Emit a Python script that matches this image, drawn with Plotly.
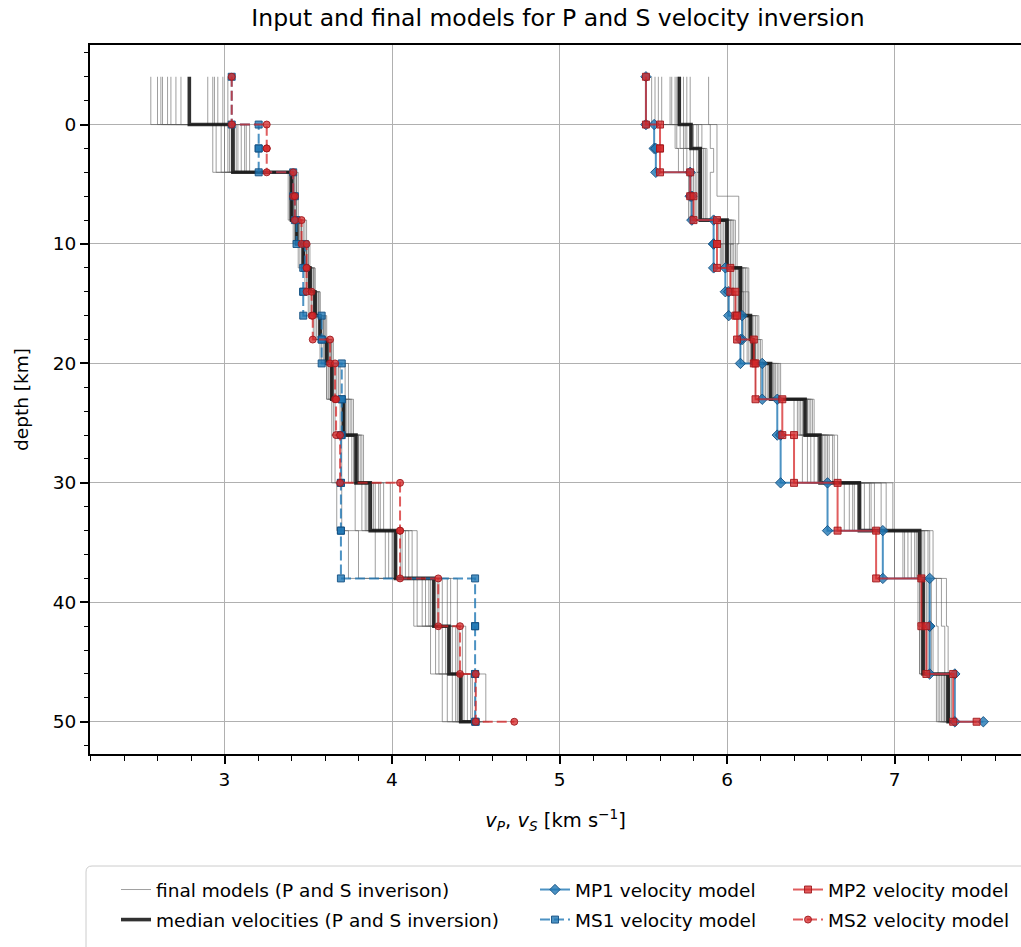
import plotly.graph_objects as go

# ---------------- data ----------------
# layer boundaries [km]; every model has 19 layers + a half-space value (last entry)
depth_bounds = [-4, 0, 2, 4, 6, 8, 10, 12, 14, 16, 18, 20, 23, 26, 30, 34, 38, 42, 46, 50]

vs_median = [2.79, 3.05, 3.05, 3.40, 3.40, 3.43, 3.47, 3.51, 3.54, 3.57, 3.61, 3.64, 3.71, 3.785, 3.87, 4.02, 4.25, 4.34, 4.41, 4.50]
vp_median = [5.715, 5.785, 5.84, 5.84, 5.84, 6.00, 6.00, 6.08, 6.08, 6.14, 6.155, 6.26, 6.466, 6.555, 6.79, 7.15, 7.17, 7.17, 7.32, 7.35]

mp1 = [5.516, 5.565, 5.575, 5.78, 5.79, 5.92, 5.92, 5.99, 6.01, 6.09, 6.08, 6.21, 6.30, 6.32, 6.60, 6.93, 7.21, 7.21, 7.36, 7.53]
ms1 = [3.043, 3.204, 3.204, 3.41, 3.42, 3.43, 3.48, 3.47, 3.47, 3.58, 3.58, 3.70, 3.70, 3.695, 3.695, 3.695, 4.496, 4.496, 4.496, 4.50]
mp2 = [5.516, 5.60, 5.60, 5.78, 5.80, 5.94, 5.94, 6.02, 6.05, 6.06, 6.16, 6.17, 6.33, 6.40, 6.66, 6.89, 7.16, 7.19, 7.35, 7.49]
ms2 = [3.043, 3.252, 3.252, 3.41, 3.42, 3.46, 3.49, 3.49, 3.52, 3.527, 3.63, 3.66, 3.666, 3.69, 4.048, 4.048, 4.276, 4.406, 4.50, 4.73]

vs_final = [
    [2.56, 3.02, 3.02, 3.41, 3.41, 3.44, 3.47, 3.50, 3.53, 3.57, 3.60, 3.64, 3.70, 3.76, 3.85, 4.02, 4.24, 4.33, 4.40, 4.48],
    [2.62, 3.06, 3.06, 3.40, 3.40, 3.42, 3.46, 3.52, 3.55, 3.58, 3.62, 3.66, 3.73, 3.80, 3.90, 4.05, 4.22, 4.30, 4.38, 4.50],
    [2.63, 2.95, 2.95, 3.39, 3.39, 3.45, 3.48, 3.51, 3.54, 3.56, 3.61, 3.63, 3.69, 3.74, 3.82, 3.98, 4.20, 4.35, 4.42, 4.52],
    [2.66, 3.10, 3.10, 3.42, 3.42, 3.46, 3.49, 3.53, 3.56, 3.59, 3.63, 3.68, 3.75, 3.82, 3.95, 4.10, 4.30, 4.40, 4.47, 4.55],
    [2.68, 2.98, 2.98, 3.40, 3.40, 3.43, 3.47, 3.50, 3.52, 3.55, 3.59, 3.62, 3.66, 3.70, 3.78, 3.90, 4.15, 4.26, 4.33, 4.44],
    [2.71, 3.08, 3.08, 3.41, 3.41, 3.47, 3.50, 3.52, 3.55, 3.60, 3.64, 3.65, 3.72, 3.79, 3.88, 4.06, 4.28, 4.38, 4.45, 4.53],
    [2.74, 3.04, 3.04, 3.43, 3.43, 3.44, 3.48, 3.53, 3.57, 3.58, 3.61, 3.67, 3.71, 3.77, 3.86, 4.00, 4.25, 4.36, 4.43, 4.50],
    [2.90, 3.15, 3.15, 3.44, 3.44, 3.49, 3.51, 3.54, 3.56, 3.61, 3.65, 3.72, 3.77, 3.83, 3.99, 4.15, 4.39, 4.44, 4.56, 4.58],
    [2.93, 3.00, 3.00, 3.39, 3.39, 3.43, 3.45, 3.49, 3.51, 3.54, 3.58, 3.61, 3.65, 3.64, 3.67, 3.74, 4.13, 4.23, 4.30, 4.42],
    [2.94, 3.12, 3.12, 3.40, 3.40, 3.45, 3.49, 3.52, 3.54, 3.57, 3.62, 3.65, 3.72, 3.80, 3.89, 4.08, 4.27, 4.32, 4.39, 4.49],
    [2.96, 2.93, 2.93, 3.38, 3.38, 3.41, 3.44, 3.48, 3.50, 3.53, 3.57, 3.61, 3.64, 3.66, 3.70, 3.80, 4.18, 4.28, 4.36, 4.46],
    [2.99, 3.07, 3.07, 3.42, 3.42, 3.46, 3.49, 3.51, 3.55, 3.59, 3.63, 3.74, 3.76, 3.81, 3.93, 4.12, 4.33, 4.42, 4.50, 4.56],
    [3.02, 3.03, 3.03, 3.41, 3.41, 3.44, 3.47, 3.50, 3.53, 3.58, 3.60, 3.64, 3.71, 3.78, 3.84, 3.96, 4.23, 4.34, 4.41, 4.51],
    [2.60, 3.13, 3.13, 3.43, 3.43, 3.48, 3.50, 3.54, 3.57, 3.60, 3.64, 3.69, 3.74, 3.79, 3.92, 4.03, 4.35, 4.39, 4.48, 4.54],
]

vp_final = [
    [5.55, 5.72, 5.76, 5.78, 5.78, 5.95, 5.97, 6.03, 6.04, 6.09, 6.10, 6.20, 6.42, 6.50, 6.73, 7.05, 7.15, 7.16, 7.28, 7.33],
    [5.57, 5.75, 5.80, 5.80, 5.80, 5.97, 5.98, 6.05, 6.06, 6.12, 6.13, 6.23, 6.45, 6.58, 6.80, 7.12, 7.18, 7.19, 7.30, 7.35],
    [5.59, 5.70, 5.74, 5.77, 5.77, 5.94, 5.96, 6.02, 6.01, 6.07, 6.08, 6.17, 6.40, 6.45, 6.70, 7.00, 7.14, 7.15, 7.25, 7.31],
    [5.61, 5.80, 5.85, 5.85, 5.85, 6.01, 6.02, 6.09, 6.10, 6.15, 6.17, 6.28, 6.48, 6.60, 6.85, 7.18, 7.22, 7.21, 7.31, 7.36],
    [5.67, 5.78, 5.82, 5.83, 5.83, 5.99, 6.00, 6.07, 6.08, 6.13, 6.15, 6.25, 6.46, 6.54, 6.78, 7.10, 7.16, 7.17, 7.29, 7.34],
    [5.69, 5.85, 5.88, 5.88, 5.88, 6.03, 6.04, 6.11, 6.12, 6.18, 6.19, 6.30, 6.50, 6.63, 6.92, 7.20, 7.25, 7.26, 7.33, 7.37],
    [5.70, 5.69, 5.71, 5.79, 5.79, 5.96, 5.97, 6.04, 6.05, 6.10, 6.12, 6.22, 6.43, 6.48, 6.75, 7.08, 7.17, 7.18, 7.27, 7.32],
    [5.72, 5.90, 5.92, 5.90, 5.90, 6.05, 6.05, 6.12, 6.13, 6.19, 6.21, 6.32, 6.52, 6.66, 6.99, 7.23, 7.31, 7.32, 7.34, 7.38],
    [5.74, 5.76, 5.83, 5.84, 5.84, 6.00, 6.01, 6.08, 6.09, 6.14, 6.16, 6.27, 6.47, 6.57, 6.82, 7.14, 7.19, 7.20, 7.31, 7.35],
    [5.76, 5.82, 5.86, 5.86, 5.86, 6.02, 6.03, 6.10, 6.11, 6.16, 6.18, 6.29, 6.49, 6.61, 6.88, 7.16, 7.21, 7.23, 7.32, 7.36],
    [5.78, 5.74, 5.78, 5.81, 5.81, 5.98, 5.99, 6.06, 6.07, 6.11, 6.14, 6.24, 6.44, 6.52, 6.76, 7.06, 7.15, 7.15, 7.26, 7.30],
    [5.89, 5.94, 5.94, 5.94, 6.07, 6.07, 6.06, 6.13, 6.13, 6.17, 6.20, 6.31, 6.51, 6.64, 6.95, 7.21, 7.28, 7.30, 7.33, 7.37],
    [5.71, 5.79, 5.84, 5.82, 5.82, 5.99, 5.99, 6.07, 6.07, 6.13, 6.15, 6.26, 6.46, 6.56, 6.79, 7.13, 7.18, 7.18, 7.30, 7.34],
    [5.66, 5.83, 5.87, 5.87, 5.87, 6.04, 6.02, 6.09, 6.10, 6.15, 6.17, 6.28, 6.48, 6.59, 6.86, 7.17, 7.20, 7.22, 7.32, 7.36],
]

title_text = "Input and final models for P and S velocity inversion"
x_label = "<i>v</i><sub><i>P</i></sub>, <i>v</i><sub><i>S</i></sub> [km s<sup>\u22121</sup>]"
y_label = "depth [km]"

# ---------------- helpers ----------------
def step_xy(vals):
    xs, ys = [], []
    for i in range(len(depth_bounds) - 1):
        xs += [vals[i], vals[i]]
        ys += [depth_bounds[i], depth_bounds[i + 1]]
    xs.append(vals[-1])
    ys.append(depth_bounds[-1])
    return xs, ys

FONT = "DejaVu Sans"
BLUE = "rgba(31,119,180,0.8)"
BLUE_EDGE = "rgba(20,80,130,0.9)"
RED = "rgba(214,39,40,0.75)"
RED_EDGE = "rgba(160,25,30,0.9)"

fig = go.Figure()

# final models (gray)
first = True
for model in vs_final + vp_final:
    xs, ys = step_xy(model)
    fig.add_trace(go.Scatter(
        x=xs, y=ys, mode="lines",
        line=dict(color="rgba(95,95,95,0.6)", width=1),
        name="final models (P and S inverison)",
        legendgroup="final", showlegend=first, legend="legend",
        hoverinfo="skip"))
    first = False

# medians
first = True
for model in (vs_median, vp_median):
    xs, ys = step_xy(model)
    fig.add_trace(go.Scatter(
        x=xs, y=ys, mode="lines",
        line=dict(color="rgba(20,20,20,0.88)", width=3.6),
        name="median velocities (P and S inversion)",
        legendgroup="median", showlegend=first, legend="legend"))
    first = False

def add_model(vals, name, color, edge, dash, symbol, legend, group):
    xs, ys = step_xy(vals)
    fig.add_trace(go.Scatter(
        x=xs, y=ys, mode="lines+markers", name=name,
        line=dict(color=color, width=2, dash=dash),
        marker=dict(symbol=symbol, size=7 if symbol != "diamond" else 8,
                    color=color, line=dict(color=edge, width=1)),
        legend=legend, legendgroup=group))

add_model(mp1, "MP1 velocity model", BLUE, BLUE_EDGE, "solid", "diamond", "legend2", "mp1")
add_model(ms1, "MS1 velocity model", BLUE, BLUE_EDGE, "10px,4px", "square", "legend2", "ms1")
add_model(mp2, "MP2 velocity model", RED, RED_EDGE, "solid", "square", "legend3", "mp2")
add_model(ms2, "MS2 velocity model", RED, RED_EDGE, "10px,4px", "circle", "legend3", "ms2")

# ---------------- layout ----------------
W, H = 1021, 947
ML, MR, MT, MB = 90, 0, 45, 193
PW, PH = W - ML - MR, H - MT - MB

def px(x):
    return (x - ML) / PW

def py(y):
    return (H - MB - y) / PH

leg_common = dict(
    xanchor="left", yanchor="top", bgcolor="rgba(0,0,0,0)", borderwidth=0,
    font=dict(family=FONT, size=18.5, color="black"),
    traceorder="grouped", tracegroupgap=3, orientation="v")

r = 6
x0, yt, x1, yb = px(86), py(866), px(1032), py(965)
frame_path = (f"M{x0},{yb} L{x0},{py(866 + r)} Q{x0},{yt} {px(86 + r)},{yt} "
              f"L{x1},{yt} L{x1},{yb} Z")

fig.update_layout(
    width=W, height=H,
    margin=dict(l=ML, r=MR, t=MT, b=MB, pad=0, autoexpand=False),
    paper_bgcolor="white", plot_bgcolor="white",
    font=dict(family=FONT, size=18.5, color="black"),
    title=dict(text=title_text, x=558 / W, xref="container", xanchor="center",
               y=1 - 18 / H, yref="container", yanchor="middle",
               font=dict(family=FONT, size=23.5, color="black")),
    showlegend=True,
    legend=dict(x=px(116), y=py(871), **leg_common),
    legend2=dict(x=px(535), y=py(871), **leg_common),
    legend3=dict(x=px(788), y=py(871), **leg_common),
    shapes=[dict(type="path", xref="paper", yref="paper", path=frame_path,
                 line=dict(color="#cccccc", width=1), fillcolor="rgba(255,255,255,0.8)",
                 layer="below")],
    xaxis=dict(
        range=[2.197, 7.755], dtick=1, tick0=0,
        showgrid=True, gridcolor="#b0b0b0", gridwidth=1.3, zeroline=False,
        showline=True, linecolor="black", linewidth=2, mirror=True,
        ticks="outside", ticklen=8, tickwidth=1.6, tickcolor="black",
        tickfont=dict(family=FONT, size=18.5, color="black"),
        minor=dict(dtick=0.2, ticks="outside", ticklen=4.5, tickwidth=1.4,
                   tickcolor="black", showgrid=False),
        title=dict(text=x_label, standoff=24, font=dict(family=FONT, size=19.5, color="black")),
    ),
    yaxis=dict(
        range=[52.7, -6.66], dtick=10, tick0=0,
        showgrid=True, gridcolor="#b0b0b0", gridwidth=1.3, zeroline=False,
        showline=True, linecolor="black", linewidth=2, mirror=False,
        ticks="outside", ticklen=8, tickwidth=1.6, tickcolor="black",
        tickfont=dict(family=FONT, size=18.5, color="black"),
        minor=dict(dtick=2, ticks="outside", ticklen=4.5, tickwidth=1.4,
                   tickcolor="black", showgrid=False),
        title=dict(text=y_label, standoff=19, font=dict(family=FONT, size=18.5, color="black")),
    ),
)

fig.write_html("out.html")
